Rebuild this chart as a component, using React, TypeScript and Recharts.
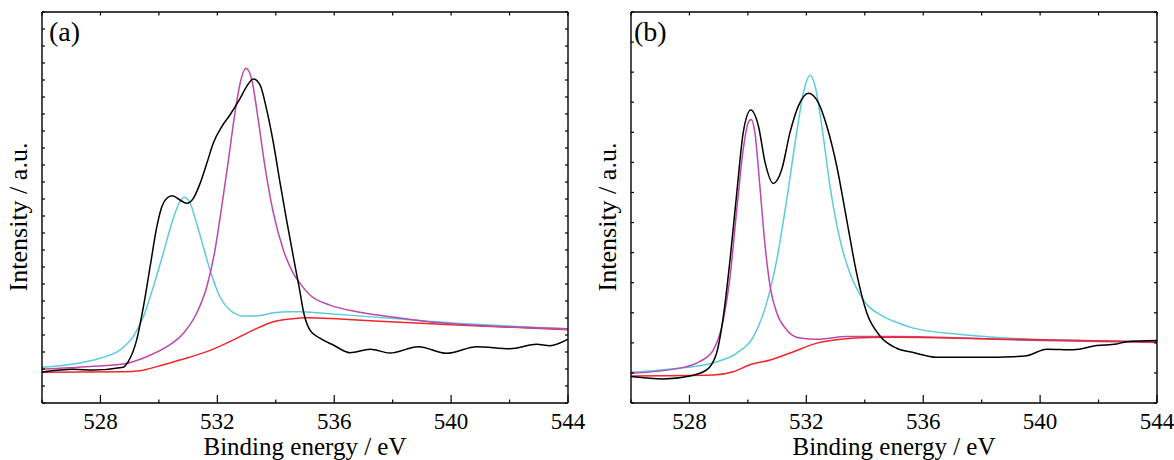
import React from 'react';
import { LineChart, Line, XAxis, YAxis, Label } from 'recharts';

const FONT = '"Liberation Serif", "Times New Roman", Times, serif';

// Binding energy axis (eV)
const energyTicks = [526, 528, 530, 532, 534, 536, 538, 540, 542, 544];
const majorEnergyTicks = [528, 532, 536, 540, 544];
const energyDomain = [526, 544];

// Intensity axis (a.u.)
const intensityTicksA = [0, 100, 200, 300, 400, 500, 600, 700, 800, 900, 1000, 1100, 1200, 1300, 1400, 1500, 1600, 1700, 1800, 1900, 2000, 2100, 2200, 2300];
const intensityTicksB = [0, 100, 200, 300, 400, 500, 600, 700, 800, 900, 1000, 1100, 1200, 1300];

// Panel (a): [binding energy, intensity]
const aEnvelope = [
  [526.0, 182], [527.07, 198], [527.75, 194], [528.78, 210], [528.95, 243], [529.24, 371], [529.47, 566],
  [529.7, 802], [529.93, 1037], [530.1, 1155], [530.27, 1204], [530.46, 1219], [530.72, 1194], [530.95, 1175],
  [531.18, 1204], [531.41, 1292], [531.64, 1410], [531.86, 1528], [532.15, 1625], [532.43, 1694], [532.78, 1792],
  [533.0, 1861], [533.23, 1906], [533.46, 1871], [533.69, 1724], [533.92, 1528], [534.15, 1292], [534.37, 1076],
  [534.6, 861], [534.8, 680], [534.96, 528], [535.17, 429], [535.51, 381], [535.97, 341], [536.54, 296],
  [537.23, 316], [537.91, 294], [538.88, 331], [539.85, 292], [540.88, 331], [542.02, 319], [542.93, 345],
  [543.38, 337], [544.0, 375],
];
const aPeakLow = [
  [526.0, 210], [527.07, 229], [527.98, 263], [528.67, 312], [529.12, 390], [529.47, 508], [529.81, 684],
  [530.15, 881], [530.44, 1057], [530.72, 1184], [530.87, 1210], [531.07, 1175], [531.29, 1057], [531.52, 919],
  [531.75, 782], [532.09, 625], [532.43, 547], [532.89, 512], [533.35, 512], [533.92, 531], [534.49, 537],
  [534.83, 537], [535.63, 528], [537.91, 498], [540.19, 469], [542.47, 449], [544.0, 435],
];
const aPeakHigh = [
  [526.0, 198], [527.64, 214], [528.78, 229], [529.58, 272], [530.27, 331], [530.84, 410], [531.29, 528],
  [531.64, 684], [531.92, 900], [532.15, 1155], [532.38, 1429], [532.6, 1704], [532.78, 1881], [532.98, 1969],
  [533.18, 1900], [533.4, 1665], [533.63, 1390], [533.92, 1116], [534.26, 900], [534.6, 763], [534.83, 704],
  [535.17, 635], [535.86, 576], [536.77, 537], [537.91, 508], [539.62, 472], [541.33, 453], [544.0, 437],
];
const aBackground = [
  [526.0, 181], [528.78, 184], [529.35, 190], [529.93, 214], [530.72, 253], [531.64, 302], [532.43, 361],
  [533.23, 429], [533.92, 478], [534.49, 494], [535.06, 502], [536.2, 494], [537.91, 478], [540.19, 459],
  [542.47, 443], [544.0, 431],
];

// Panel (b): [binding energy, intensity]
const bEnvelope = [
  [526.0, 88], [527.1, 80], [528.02, 90], [528.59, 110], [528.93, 166], [529.16, 288], [529.39, 477],
  [529.62, 699], [529.84, 899], [530.1, 974], [530.36, 921], [530.59, 799], [530.87, 730], [531.16, 777],
  [531.44, 899], [531.73, 988], [532.07, 1030], [532.41, 999], [532.7, 921], [533.04, 788], [533.38, 610],
  [533.72, 432], [534.07, 299], [534.52, 223], [535.09, 182], [535.66, 168], [536.46, 152], [537.94, 152],
  [539.08, 154], [539.54, 157], [540.23, 179], [541.14, 177], [541.94, 191], [542.62, 196], [542.96, 204],
  [544.0, 208],
];
const bPeakLow = [
  [526.0, 99], [527.68, 116], [528.36, 138], [528.82, 177], [529.16, 277], [529.39, 421], [529.62, 643],
  [529.84, 843], [530.01, 932], [530.11, 943], [530.24, 899], [530.41, 721], [530.59, 521], [530.76, 388],
  [530.99, 299], [531.33, 243], [531.78, 216], [532.36, 212], [533.38, 221], [535.09, 221], [539.08, 210],
  [544.0, 201],
];
const bPeakHigh = [
  [526.0, 102], [527.68, 116], [528.82, 134], [529.62, 166], [530.19, 221], [530.64, 332], [530.99, 477],
  [531.33, 677], [531.67, 899], [531.9, 1032], [532.13, 1090], [532.3, 1054], [532.53, 921], [532.81, 721],
  [533.15, 543], [533.49, 432], [533.95, 343], [534.63, 288], [535.15, 266], [535.66, 249], [537.37, 227],
  [539.65, 212], [541.94, 207], [544.0, 204],
];
const bBackground = [
  [526.0, 90], [528.82, 93], [529.5, 104], [530.07, 127], [530.76, 143], [531.44, 166], [532.36, 199],
  [533.27, 213], [534.18, 218], [535.09, 219], [539.0, 212], [544.0, 203],
];

const toRows = (pairs: number[][]) => pairs.map(([E, I]) => ({ E, I }));

const COLORS = { envelope: '#000000', cyan: '#5ccbdc', magenta: '#bb48ad', red: '#f0262a' };

const BottomTick = (props: any) => {
  const { x, y, payload } = props;
  const v = Number(payload.value);
  const major = majorEnergyTicks.includes(v);
  return (
    <g>
      <line x1={x} x2={x} y1={y} y2={y - (major ? 8 : 3.5)} stroke="#000" strokeWidth={1.2} />
      {major && (
        <text x={x} y={y + 26} textAnchor="middle" fontSize={23} fontFamily={FONT} fill="#000">
          {v}
        </text>
      )}
    </g>
  );
};

const TopTick = (props: any) => {
  const { x, y } = props;
  return <line x1={x} x2={x} y1={y} y2={y + 3.5} stroke="#000" strokeWidth={1.2} />;
};

const LeftTick = (props: any) => {
  const { x, y } = props;
  return <line x1={x} x2={x + 3} y1={y} y2={y} stroke="#000" strokeWidth={1.2} />;
};

const RightTick = (props: any) => {
  const { x, y } = props;
  return <line x1={x} x2={x - 3} y1={y} y2={y} stroke="#000" strokeWidth={1.2} />;
};

type Series = { data: number[][]; color: string };

type PanelProps = {
  left: number;
  letter: string;
  letterDx: number;
  yMax: number;
  yTicks: number[];
  series: Series[];
};

const axisLineStyle = { stroke: '#000', strokeWidth: 1.4 };

const Panel = ({ left, letter, letterDx, yMax, yTicks, series }: PanelProps) => {
  const xTitle = (p: any) => {
    const vb = p.viewBox || { x: 42, y: 403, width: 526, height: 1 };
    return (
      <text x={vb.x + vb.width / 2} y={vb.y + 52} textAnchor="middle" fontSize={25} fontFamily={FONT} fill="#000">
        Binding energy / eV
      </text>
    );
  };
  const yTitle = (p: any) => {
    const vb = p.viewBox || { x: 41, y: 12, width: 1, height: 391 };
    const cx = vb.x - 14;
    const cy = vb.y + vb.height / 2 + 9.5;
    return (
      <text x={cx} y={cy} transform={`rotate(-90 ${cx} ${cy})`} textAnchor="middle" fontSize={26} fontFamily={FONT} fill="#000">
        Intensity / a.u.
      </text>
    );
  };
  const letterLabel = (p: any) => {
    const vb = p.viewBox || { x: 42, y: 11, width: 526, height: 1 };
    return (
      <text x={vb.x + letterDx} y={vb.y + 30} fontSize={28} fontFamily={FONT} fill="#000">
        {letter}
      </text>
    );
  };
  return (
    <div style={{ position: 'absolute', left, top: 0 }}>
      <LineChart width={587} height={460} margin={{ top: 11, right: 18, bottom: 56, left: 41 }}>
        <XAxis
          xAxisId="b"
          orientation="bottom"
          type="number"
          dataKey="E"
          domain={energyDomain}
          ticks={energyTicks}
          interval={0}
          height={1}
          tickSize={0}
          tickMargin={0}
          tickLine={false}
          axisLine={axisLineStyle}
          tick={BottomTick}
          allowDataOverflow
        >
          <Label content={xTitle} />
        </XAxis>
        <XAxis
          xAxisId="t"
          orientation="top"
          type="number"
          dataKey="E"
          domain={energyDomain}
          ticks={energyTicks}
          interval={0}
          height={1}
          tickSize={0}
          tickMargin={0}
          tickLine={false}
          axisLine={axisLineStyle}
          tick={TopTick}
          allowDataOverflow
        >
          <Label content={letterLabel} />
        </XAxis>
        <YAxis
          yAxisId="l"
          orientation="left"
          type="number"
          domain={[0, yMax]}
          ticks={yTicks}
          interval={0}
          width={1}
          tickSize={0}
          tickMargin={0}
          tickLine={false}
          axisLine={axisLineStyle}
          tick={LeftTick}
          allowDataOverflow
        >
          <Label content={yTitle} />
        </YAxis>
        <YAxis
          yAxisId="r"
          orientation="right"
          type="number"
          domain={[0, yMax]}
          ticks={yTicks}
          interval={0}
          width={1}
          tickSize={0}
          tickMargin={0}
          tickLine={false}
          axisLine={axisLineStyle}
          tick={RightTick}
          allowDataOverflow
        />
        {series.map((s, i) => (
          <Line
            key={i}
            xAxisId="b"
            yAxisId="l"
            data={toRows(s.data)}
            dataKey="I"
            type="monotone"
            stroke={s.color}
            strokeWidth={1.5}
            dot={false}
            activeDot={false}
            isAnimationActive={false}
          />
        ))}
      </LineChart>
    </div>
  );
};

export default function App() {
  return (
    <div style={{ position: 'absolute', left: 0, top: 0, width: 1174, height: 460, background: '#fff' }}>
      <Panel
        left={0}
        letter="(a)"
        letterDx={7}
        yMax={2300}
        yTicks={intensityTicksA}
        series={[
          { data: aBackground, color: COLORS.red },
          { data: aPeakLow, color: COLORS.cyan },
          { data: aPeakHigh, color: COLORS.magenta },
          { data: aEnvelope, color: COLORS.envelope },
        ]}
      />
      <Panel
        left={589}
        letter="(b)"
        letterDx={3}
        yMax={1300}
        yTicks={intensityTicksB}
        series={[
          { data: bPeakHigh, color: COLORS.cyan },
          { data: bPeakLow, color: COLORS.magenta },
          { data: bBackground, color: COLORS.red },
          { data: bEnvelope, color: COLORS.envelope },
        ]}
      />
    </div>
  );
}
